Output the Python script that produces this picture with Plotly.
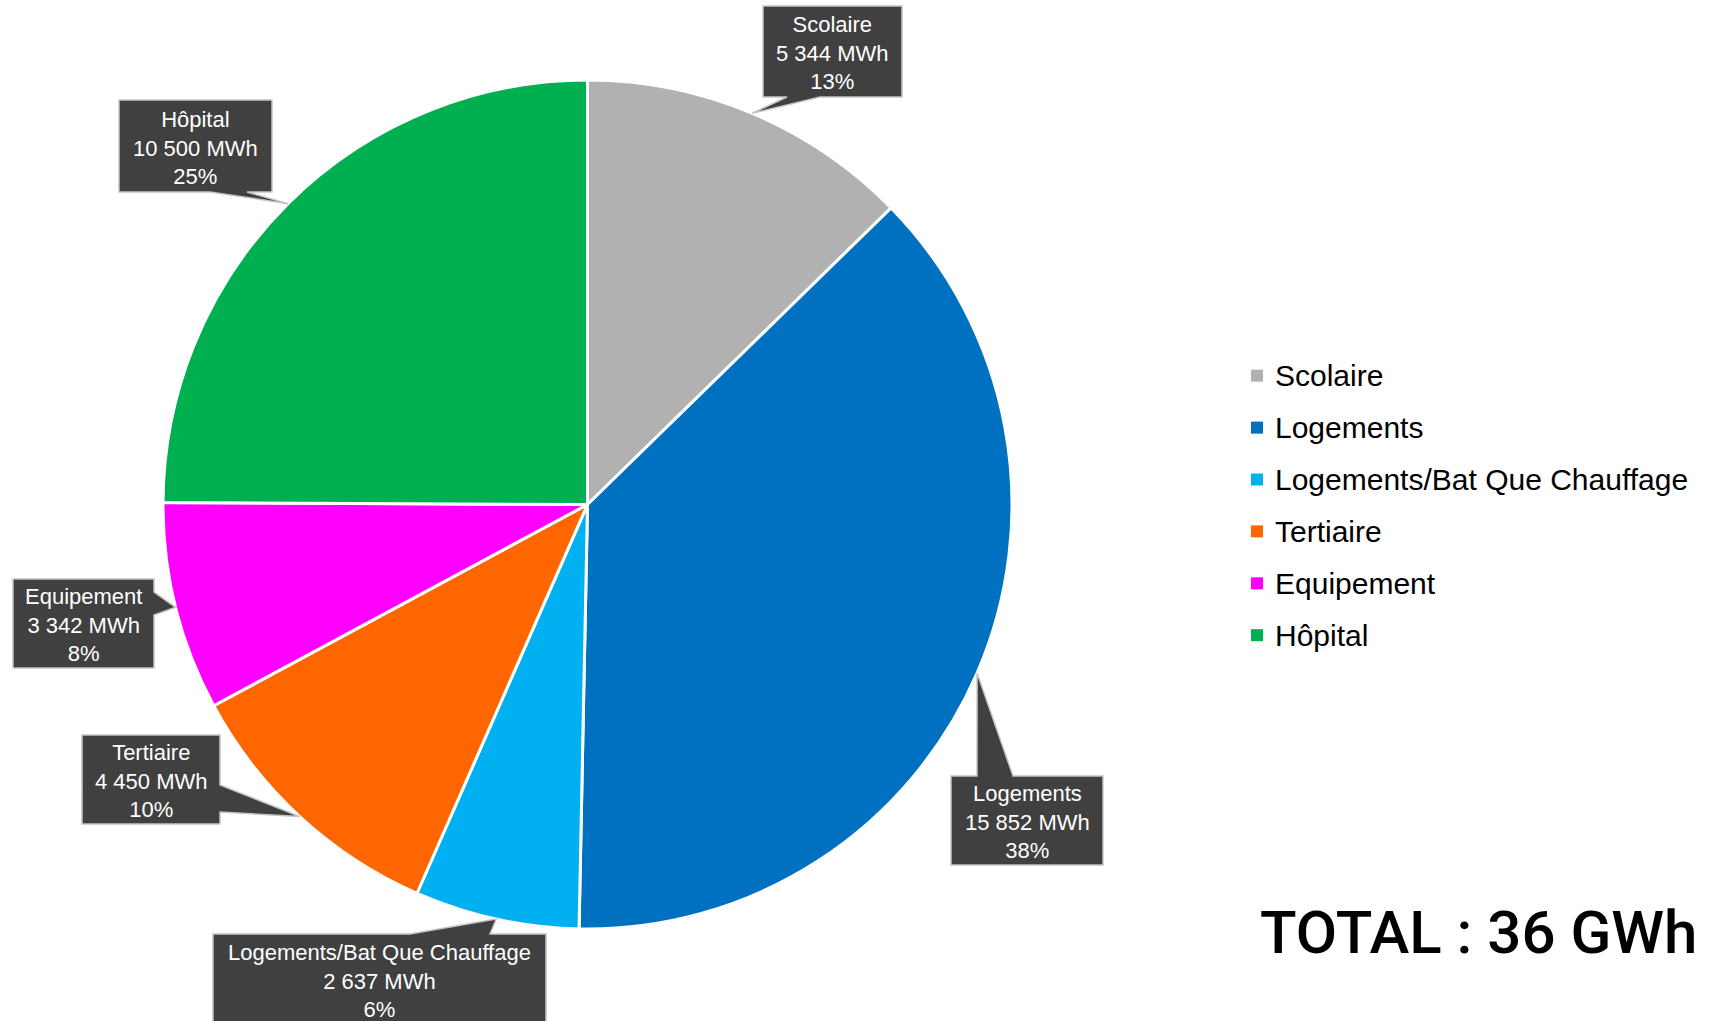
import math
import plotly.graph_objects as go

# Figure size in pixels
W, H = 1716, 1021

# ---- data ----
categories = ["Scolaire", "Logements", "Logements/Bat Que Chauffage",
              "Tertiaire", "Equipement", "Hôpital"]
energy_mwh = [5344, 15852, 2637, 4450, 3342, 10500]
share_labels = ["13%", "38%", "6%", "10%", "8%", "25%"]
slice_colors = ["#B1B1B1", "#0070C0", "#00B0F0", "#FF6600", "#FF00FF", "#00B050"]
total_label = "TOTAL : 36 GWh"

# ---- layout constants (pixels) ----
CX, CY, R = 587.5, 504.5, 424.5          # pie centre and radius
LABEL_FONT = "Liberation Sans, Arial, sans-serif"
BOX_FILL = "#404040"
BOX_EDGE = "#C4C4C4"

# callout boxes: (x0, y0, x1, y1), edge carrying the pointer, pointer base span
callouts = {
    "Scolaire": ((763, 6, 902, 97), "bottom", (787, 820)),
    "Logements": ((951, 776, 1103, 865), "top", (977, 1013)),
    "Logements/Bat Que Chauffage": ((213, 934, 546, 1025), "top", (410, 490)),
    "Tertiaire": ((82, 735, 220, 824), "right", (785, 812)),
    "Equipement": ((13, 579, 154, 668), "right", (592, 615)),
    "Hôpital": ((119, 100, 272, 192), "bottom", (210, 247)),
}


def px(x, y):
    """Pixel position -> paper coordinates."""
    return x / W, 1 - y / H


def fmt_mwh(v):
    return f"{v:,}".replace(",", " ") + " MWh"


def callout_path(box, edge, span, tip):
    x0, y0, x1, y1 = box
    a, b = span
    tx, ty = tip
    pts = [(x0, y0)]
    if edge == "top":
        pts += [(a, y0), (tx, ty), (b, y0)]
    pts.append((x1, y0))
    if edge == "right":
        pts += [(x1, a), (tx, ty), (x1, b)]
    pts.append((x1, y1))
    if edge == "bottom":
        pts += [(b, y1), (tx, ty), (a, y1)]
    pts.append((x0, y1))
    if edge == "left":
        pts += [(x0, b), (tx, ty), (x0, a)]
    coords = [px(x, y) for x, y in pts]
    return "M " + " L ".join(f"{x:.5f},{y:.5f}" for x, y in coords) + " Z"


fig = go.Figure()

fig.add_trace(go.Pie(
    labels=categories,
    values=energy_mwh,
    sort=False,
    direction="clockwise",
    rotation=0,
    marker=dict(colors=slice_colors, line=dict(color="white", width=3)),
    textinfo="none",
    showlegend=False,
    domain=dict(x=[(CX - R) / W, (CX + R) / W],
                y=[1 - (CY + R) / H, 1 - (CY - R) / H]),
))

shapes = []
annotations = []

# callout labels, each pointing at the middle of its slice
total = sum(energy_mwh)
start = 0.0
for cat, val, share in zip(categories, energy_mwh, share_labels):
    sweep = val / total * 360.0
    mid = math.radians(start + sweep / 2)
    start += sweep
    tip = (CX + R * math.sin(mid), CY - R * math.cos(mid))
    box, edge, span = callouts[cat]
    shapes.append(dict(
        type="path", xref="paper", yref="paper",
        path=callout_path(box, edge, span, tip),
        fillcolor=BOX_FILL, line=dict(color=BOX_EDGE, width=1.5),
        layer="above",
    ))
    cx, cy = px((box[0] + box[2]) / 2, (box[1] + box[3]) / 2 + 1.5)
    annotations.append(dict(
        x=cx, y=cy, xref="paper", yref="paper",
        xanchor="center", yanchor="middle", showarrow=False, align="center",
        text=f"{cat}<br>{fmt_mwh(val)}<br>{share}",
        font=dict(family=LABEL_FONT, size=22, color="white"),
    ))

# legend
LEG_X, LEG_Y0, LEG_DY, SQ = 1251, 375.7, 51.9, 12
for i, (cat, col) in enumerate(zip(categories, slice_colors)):
    y = LEG_Y0 + i * LEG_DY
    xa, ya = px(LEG_X, y - SQ / 2)
    xb, yb = px(LEG_X + SQ, y + SQ / 2)
    shapes.append(dict(type="rect", xref="paper", yref="paper",
                       x0=xa, x1=xb, y0=yb, y1=ya,
                       fillcolor=col, line=dict(width=0)))
    tx, ty = px(1273, y)
    annotations.append(dict(
        x=tx, y=ty, xref="paper", yref="paper",
        xanchor="left", yanchor="middle", showarrow=False,
        text=cat, font=dict(family=LABEL_FONT, size=30, color="black"),
    ))

# total
tx, ty = px(1258, 932)
annotations.append(dict(
    x=tx, y=ty, xref="paper", yref="paper",
    xanchor="left", yanchor="middle", showarrow=False,
    text=total_label,
    font=dict(family="Roboto, Liberation Sans, sans-serif", size=60,
              color="black", weight=500),
))

fig.update_layout(
    width=W, height=H,
    margin=dict(l=0, r=0, t=0, b=0),
    paper_bgcolor="white", plot_bgcolor="white",
    shapes=shapes, annotations=annotations,
)

fig.write_html("out.html")
